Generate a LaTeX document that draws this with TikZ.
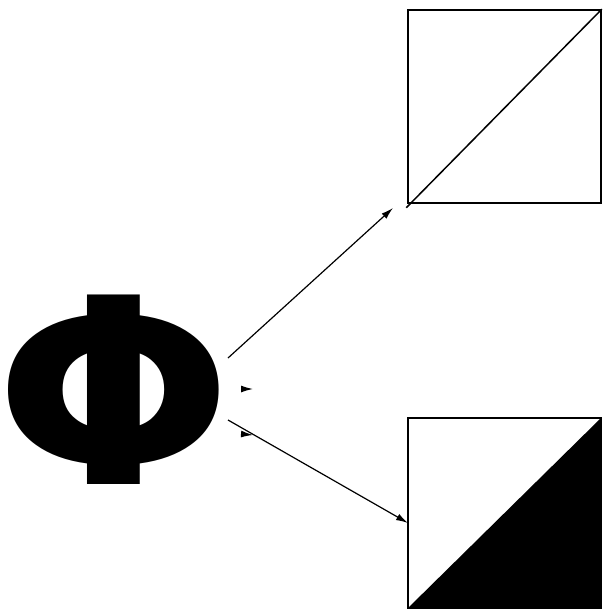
\documentclass[tikz,border=0pt]{standalone}
\usepackage{fontspec}
\usepackage{graphicx}
\usetikzlibrary{arrows.meta, positioning}
\newfontfamily\phifont{DejaVu Sans Bold}

\tikzset{
  panel/.style={draw, line width=1.5pt, minimum width=193pt, inner sep=0pt},
  link/.style={-{Latex[length=12pt,width=7pt]}, line width=1.2pt},
}

\begin{document}
\begin{tikzpicture}[x=1pt, y=-1pt]
  \useasboundingbox (0,0) rectangle (602,610);

  \node[inner sep=0pt, font=\phifont\fontsize{260}{260}\selectfont] (phi) at (114,390) {\scalebox{1.08}[1]{Φ}};

  \node[panel, minimum height=193pt] (linesq) at (504.5,106.5) {};
  \node[panel, minimum height=190pt] (halfsq) at (504.5,513) {};

  % split panels
  \fill (halfsq.south west) -- (halfsq.south east) -- (halfsq.north east) -- cycle;
  \draw[line width=1.5pt] ([shift={(-1pt,-4pt)}]linesq.south west) -- (linesq.north east);

  \coordinate (upstart) at (228,358);
  \coordinate (uptip) at (393,208);
  \coordinate (lowstart) at (228,420);
  \coordinate (lowtip) at (408,523);

  \draw[link] (upstart) -- (uptip);
  \draw[link] (lowstart) -- (lowtip);

  % loose heads
  \coordinate (heada) at (241,389);
  \coordinate (headb) at (241,434);
  \draw[link] (heada) -- ++(12,0);
  \draw[link] (headb) -- ++(12,1);
\end{tikzpicture}
\end{document}
